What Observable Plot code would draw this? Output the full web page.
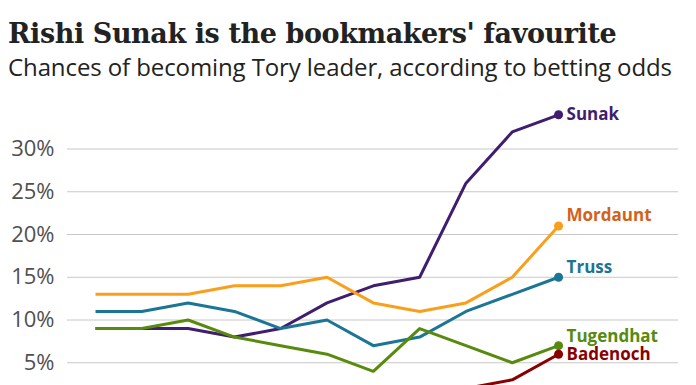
<!DOCTYPE html>
<html>
<head>
<meta charset="utf-8">
<script src="https://cdn.jsdelivr.net/npm/d3@7"></script>
<script src="https://cdn.jsdelivr.net/npm/@observablehq/plot@0.6"></script>
<style>
  html, body { margin: 0; padding: 0; background: #fff; }
  #wrap { width: 696px; }
  #head { height: 90px; padding-left: 8px; box-sizing: border-box; }
  #title { padding-top: 16px; height: 36px; font-family: "DejaVu Serif", serif; font-size: 27px; font-weight: bold; color: #222; white-space: nowrap; letter-spacing: -0.4px; line-height: 36px; }
  #subtitle { font-family: "Open Sans", sans-serif; font-size: 24px; color: #222; white-space: nowrap; letter-spacing: -0.1px; line-height: 30px; }
  #chart svg { display: block; }
</style>
</head>
<body>
<div id="wrap">
  <div id="head">
    <div id="title">Rishi Sunak is the bookmakers' favourite</div>
    <div id="subtitle">Chances of becoming Tory leader, according to betting odds</div>
  </div>
  <div id="chart"></div>
</div>
<script>
// Observation index (dates are not visible in the cropped picture)
const steps = [0, 1, 2, 3, 4, 5, 6, 7, 8, 9, 10];

const candidates = ["Sunak", "Mordaunt", "Truss", "Tugendhat", "Badenoch"];
const sunak     = [9, 9, 9, 8, 9, 12, 14, 15, 26, 32, 34];
const mordaunt  = [13, 13, 13, 14, 14, 15, 12, 11, 12, 15, 21];
const truss     = [11, 11, 12, 11, 9, 10, 7, 8, 11, 13, 15];
const tugendhat = [9, 9, 10, 8, 7, 6, 4, 9, 7, 5, 7];
const badenoch  = [1, 1, 1, 1, 1, 1, 1, 1, 2, 3, 6];

const yTicks = [5, 10, 15, 20, 25, 30];

// styles
const lineColors  = ["#3f1d6f", "#fa9f1c", "#1b7594", "#588a0d", "#8a0000"];
const labelColors = ["#3f1d6f", "#d2621a", "#1b7594", "#588a0d", "#8a0000"];
const labelDy     = [0, -10, -10, -9, 0];

const seriesValues = [sunak, mordaunt, truss, tugendhat, badenoch];
const rows = candidates.flatMap((name, k) =>
  steps.map((s, i) => ({ name, step: s, value: seriesValues[k][i] })));
const last = candidates.map((name, k) => ({
  name, step: steps[steps.length - 1], value: seriesValues[k][steps.length - 1], k
}));

const chart = Plot.plot({
  width: 696,
  height: 360,
  marginLeft: 67,
  marginRight: 18,
  marginTop: 15.75,
  marginBottom: 45,
  style: { fontFamily: "Open Sans, sans-serif", background: "transparent" },
  x: { domain: [-0.605, 12.59], axis: null },
  y: { domain: [0, 35], axis: null },
  color: { domain: candidates, range: lineColors },
  marks: [
    Plot.ruleY(yTicks, { y: d => d, stroke: "#c8c8c8", strokeWidth: 1 }),
    Plot.axisY({
      ticks: yTicks,
      tickFormat: d => d + "%",
      tickSize: 0,
      tickPadding: 13,
      label: null,
      fontSize: 22,
      fill: "#505050"
    }),
    Plot.line(rows, {
      x: "step", y: "value", z: "name", stroke: "name",
      strokeWidth: 3, strokeLinejoin: "round", strokeLinecap: "butt"
    }),
    Plot.dot(last, { x: "step", y: "value", fill: "name", r: 4.5 }),
    ...last.map(d => Plot.text([d], {
      x: "step", y: "value", text: "name",
      textAnchor: "start", dx: 8, dy: labelDy[d.k],
      fill: labelColors[d.k], fontSize: 17, fontWeight: "bold"
    }))
  ]
});
document.getElementById("chart").appendChild(chart);
</script>
</body>
</html>
